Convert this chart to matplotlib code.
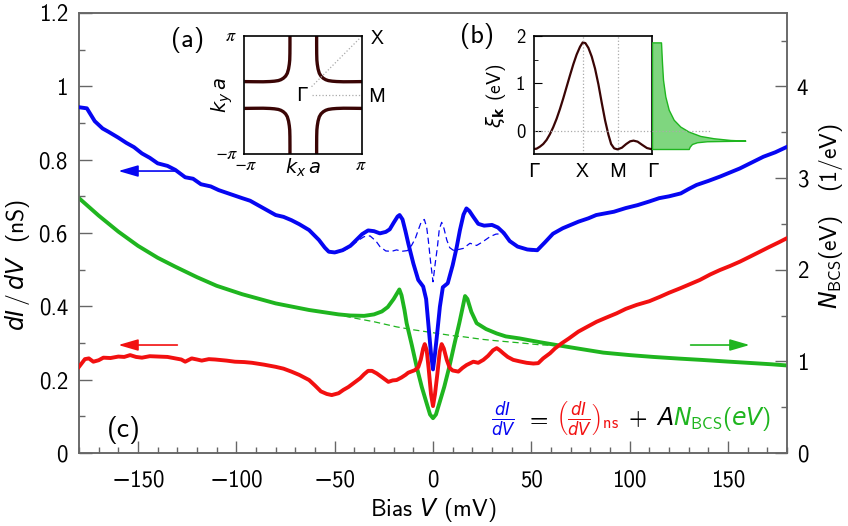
import matplotlib
matplotlib.use('Agg')
import matplotlib.pyplot as plt
from matplotlib.ticker import MultipleLocator, FuncFormatter, FixedLocator

plt.rcParams.update({
    'font.family': ['cmss10', 'DejaVu Sans'],
    'mathtext.fontset': 'custom',
    'mathtext.rm': 'cmss10',
    'mathtext.it': 'DejaVu Sans:italic',
    'mathtext.bf': 'DejaVu Sans:bold',
    'mathtext.sf': 'cmss10',
    'axes.unicode_minus': True,
})

# ---------------- data ----------------
blue_v = [-180, -176, -172, -168, -165, -160, -156, -152, -148, -144, -140, -135, -131, -126, -122, -118,
          -113, -109, -103, -97, -93, -89, -85, -80, -76, -72, -68, -63, -58, -55, -53, -50, -46, -42,
          -39, -36, -33, -30, -27, -24, -22, -20, -18, -17, -15.5, -14, -12.5, -10, -7.5, -5, -3.5, -2,
          -1, 0, 1, 2, 3.5, 5, 7.5, 10, 12, 13.7, 15.5, 17, 18.5, 20.5, 23, 26, 30, 33, 36, 39, 43, 48,
          53, 57, 61, 66, 70, 74, 79, 83, 88, 92, 98, 104, 110, 115, 120, 126, 130, 134, 140, 146, 151,
          156, 162, 168, 174, 180]
blue_g = [0.943, 0.940, 0.905, 0.885, 0.876, 0.860, 0.846, 0.834, 0.817, 0.805, 0.790, 0.783, 0.772,
          0.752, 0.748, 0.733, 0.727, 0.717, 0.706, 0.695, 0.688, 0.676, 0.664, 0.649, 0.644, 0.635,
          0.624, 0.608, 0.581, 0.560, 0.549, 0.547, 0.553, 0.565, 0.581, 0.597, 0.607, 0.605, 0.599,
          0.603, 0.610, 0.628, 0.645, 0.649, 0.637, 0.605, 0.570, 0.517, 0.472, 0.454, 0.420, 0.330,
          0.270, 0.228, 0.270, 0.320, 0.399, 0.452, 0.463, 0.512, 0.560, 0.608, 0.650, 0.667, 0.660,
          0.644, 0.625, 0.620, 0.622, 0.615, 0.600, 0.578, 0.563, 0.555, 0.553, 0.575, 0.598, 0.613,
          0.622, 0.631, 0.640, 0.649, 0.654, 0.658, 0.668, 0.676, 0.686, 0.695, 0.700, 0.708, 0.720,
          0.731, 0.742, 0.754, 0.765, 0.776, 0.792, 0.808, 0.820, 0.835]

blue_dash_v = [-58, -53, -50, -46, -42, -38, -35, -32, -29, -27, -24, -21, -18.5, -16, -13, -10.8, -9,
               -7.5, -6, -4.4, -3.2, -2.4, -1.2, 0, 1.2, 2.2, 3.2, 4.4, 5.6, 7, 8.5, 10.3, 13, 15.4,
               18.8, 22.2, 25, 29, 32, 35.7, 40, 44, 47.6, 53, 57]
blue_dash_g = [0.578, 0.547, 0.545, 0.550, 0.562, 0.580, 0.590, 0.592, 0.578, 0.563, 0.551, 0.550,
               0.554, 0.550, 0.552, 0.567, 0.585, 0.608, 0.630, 0.637, 0.615, 0.581, 0.520, 0.467,
               0.520, 0.560, 0.610, 0.629, 0.612, 0.581, 0.560, 0.553, 0.555, 0.558, 0.572, 0.566,
               0.575, 0.590, 0.597, 0.598, 0.576, 0.561, 0.553, 0.550, 0.572]

red_v = [-180, -177, -175, -172.7, -170, -167.6, -164, -160, -157, -154, -151, -148, -144, -139.6, -135,
         -131, -128, -126, -122.7, -120, -117.6, -114, -110.8, -105, -100.7, -96, -92, -86, -80, -76,
         -72, -68, -63, -60, -57, -54, -51.5, -48, -45.6, -43, -40.5, -37, -35, -33, -31, -28.6, -26,
         -22.7, -20.5, -18.5, -16, -14, -12.6, -9.2, -7.5, -6.2, -5, -4.2, -3.2, -2.2, -1, 0, 1, 2.2,
         3.4, 4.4, 5.5, 7, 8.5, 10, 12.9, 15, 17.1, 20.5, 23, 25.6, 28, 30.5, 32.4, 34, 35.7, 38, 40.8,
         44, 47.6, 51, 53.5, 56, 59.5, 62, 65.4, 69, 73.9, 78, 83.2, 88, 93.4, 98, 103.6, 110, 115.4,
         120, 125.6, 130, 135.7, 141, 145.9, 151, 156.1, 161, 166.2, 171, 176, 180]
red_g = [0.235, 0.256, 0.258, 0.249, 0.253, 0.260, 0.259, 0.263, 0.262, 0.267, 0.262, 0.260, 0.264,
         0.263, 0.262, 0.258, 0.255, 0.249, 0.258, 0.255, 0.252, 0.256, 0.255, 0.252, 0.249, 0.248,
         0.246, 0.241, 0.235, 0.230, 0.222, 0.213, 0.199, 0.184, 0.168, 0.161, 0.158, 0.163, 0.172,
         0.180, 0.190, 0.204, 0.215, 0.224, 0.224, 0.217, 0.207, 0.194, 0.198, 0.199, 0.206, 0.213,
         0.219, 0.226, 0.234, 0.255, 0.285, 0.297, 0.280, 0.230, 0.160, 0.128, 0.160, 0.215, 0.275,
         0.297, 0.285, 0.254, 0.232, 0.225, 0.222, 0.232, 0.240, 0.249, 0.246, 0.254, 0.265, 0.280,
         0.286, 0.280, 0.272, 0.262, 0.254, 0.250, 0.246, 0.244, 0.245, 0.258, 0.272, 0.285, 0.299,
         0.312, 0.331, 0.343, 0.358, 0.369, 0.381, 0.393, 0.404, 0.414, 0.426, 0.437, 0.449, 0.459,
         0.472, 0.487, 0.499, 0.510, 0.522, 0.535, 0.549, 0.562, 0.575, 0.586]

# N_BCS in 1/eV (right axis)
green_v = [-180, -170, -160, -150, -140, -131, -120, -110, -97, -80, -63, -48, -42, -35, -30, -26, -23,
           -20, -17.1, -16, -14.5, -13.4, -10.8, -8.3, -5.7, -3.2, -1.5, 0, 1.5, 3.2, 5.7, 8.3, 10.8,
           13.4, 15, 16.3, 17.5, 19.5, 22.2, 27, 32.4, 37, 44, 54, 65, 75, 86.6, 100, 112, 125, 137,
           150, 163, 172, 180]
green_n = [2.780, 2.590, 2.415, 2.260, 2.130, 2.032, 1.918, 1.824, 1.732, 1.632, 1.560, 1.512, 1.500,
           1.496, 1.512, 1.544, 1.592, 1.680, 1.784, 1.720, 1.560, 1.416, 1.180, 0.940, 0.720, 0.540,
           0.420, 0.380, 0.420, 0.540, 0.720, 0.940, 1.180, 1.420, 1.580, 1.712, 1.680, 1.540, 1.416,
           1.352, 1.304, 1.272, 1.250, 1.210, 1.170, 1.135, 1.095, 1.068, 1.048, 1.030, 1.015, 0.997,
           0.980, 0.968, 0.955]

green_dash_v = [-60, -50, -40, -30, -18.5, -10, 0, 10, 15.4, 25, 32.4, 45, 54.4, 64]
green_dash_n = [1.548, 1.516, 1.472, 1.432, 1.376, 1.344, 1.312, 1.280, 1.268, 1.240, 1.224, 1.200,
                1.180, 1.172]

# inset (a): one Fermi-surface arc (units of pi/a), mirrored into the four quadrants
fs_kx = [0.226, 0.226, 0.227, 0.230, 0.237, 0.250, 0.271, 0.300, 0.339, 0.380, 0.424, 0.49, 0.565,
         0.68, 0.84, 1.0]
fs_ky = [1.0, 0.85, 0.70, 0.59, 0.52, 0.44, 0.367, 0.318, 0.282, 0.258, 0.243, 0.233, 0.227, 0.223,
         0.224, 0.226]

# inset (b): band along Gamma-X-M-Gamma (path coordinate in pi/a) and DOS
path_ticks = [0, 1.414, 2.414, 3.414]
path_labels = ['Γ', 'X', 'M', 'Γ']
band_p = [0, 0.087, 0.183, 0.279, 0.375, 0.471, 0.567, 0.664, 0.760, 0.856, 0.952, 1.048, 1.144, 1.240,
          1.337, 1.414, 1.491, 1.577, 1.673, 1.769, 1.866, 1.962, 2.058, 2.154, 2.231, 2.318, 2.414,
          2.539, 2.664, 2.779, 2.875, 2.991, 3.116, 3.260, 3.414]
band_e = [-0.373, -0.366, -0.324, -0.268, -0.183, -0.063, 0.085, 0.261, 0.465, 0.690, 0.930, 1.169,
          1.401, 1.606, 1.768, 1.859, 1.845, 1.746, 1.563, 1.310, 0.979, 0.592, 0.225, -0.077, -0.268,
          -0.359, -0.380, -0.345, -0.268, -0.211, -0.197, -0.218, -0.282, -0.352, -0.380]
dos_e = [1.86, 1.86, 1.43, 1.08, 0.73, 0.45, 0.24, 0.097, -0.008, -0.099, -0.147, -0.183, -0.197,
         -0.204, -0.21, -0.231, -0.267, -0.323, -0.372, -0.372]
dos_w = [0, 9, 10, 11, 13.3, 16.7, 21.7, 28.3, 36.7, 48.3, 61.7, 78.3, 93.3, 71.7, 55, 45, 40, 37.7,
         36.7, 0]

BLUE = '#0606f2'
RED = '#f21010'
GREEN = '#1fb51f'
BROWN = '#3a0505'
W, H = 848, 526

fig = plt.figure(figsize=(W / 100, H / 100), dpi=100)


def fx(x):
    return x / W


def fy(y):
    return 1 - y / H


def ft(x, y, s, **kw):
    kw.setdefault('ha', 'center')
    kw.setdefault('va', 'center')
    return fig.text(fx(x), fy(y), s, **kw)


ax = fig.add_axes([fx(79), fy(453), (787 - 79) / W, (453 - 13) / H])
ax2 = ax.twinx()
ax.set_xlim(-180, 180)
ax.set_ylim(0, 1.2)
ax2.set_ylim(0, 4.8)

ax2.plot(green_dash_v, green_dash_n, color=GREEN, lw=0.9, ls=(0, (5, 3)), zorder=2)
ax2.plot(green_v, green_n, color=GREEN, lw=2.8, zorder=3, solid_joinstyle='round')
ax.plot(blue_dash_v, blue_dash_g, color=BLUE, lw=0.9, ls=(0, (5, 3)), zorder=2)
ax.plot(red_v, red_g, color=RED, lw=2.8, zorder=4, solid_joinstyle='round')
ax.plot(blue_v, blue_g, color=BLUE, lw=2.8, zorder=5, solid_joinstyle='round')
ax.set_zorder(2)
ax2.set_zorder(1)
ax.patch.set_visible(False)

# arrows
ap = dict(arrowstyle='-|>,head_length=1.2,head_width=0.35', lw=1.2, shrinkA=0, shrinkB=0)
ax.annotate('', xy=(-160, 0.769), xytext=(-131, 0.769), arrowprops=dict(color=BLUE, **ap))
ax.annotate('', xy=(-160, 0.2945), xytext=(-130, 0.2945), arrowprops=dict(color=RED, **ap))
ax.annotate('', xy=(161, 0.2945), xytext=(131, 0.2945), arrowprops=dict(color=GREEN, **ap))

SP = '#666666'
for a in (ax, ax2):
    for s in a.spines.values():
        s.set_color(SP)
        s.set_linewidth(1.1)

ax.xaxis.set_major_locator(MultipleLocator(50))
ax.xaxis.set_minor_locator(MultipleLocator(10))
ax.yaxis.set_major_locator(MultipleLocator(0.2))
ax.yaxis.set_minor_locator(MultipleLocator(0.1))
ax2.yaxis.set_major_locator(MultipleLocator(1))
ax2.yaxis.set_minor_locator(MultipleLocator(0.5))
fmt = FuncFormatter(lambda v, p: ('%g' % round(v, 3)).replace('-', '\u2212'))
ax.xaxis.set_major_formatter(fmt)
ax.yaxis.set_major_formatter(fmt)
ax2.yaxis.set_major_formatter(fmt)
ax.tick_params(which='both', direction='in', top=False, right=False, color=SP, labelsize=16.5)
ax.tick_params(which='major', length=9, width=1.0)
ax.tick_params(which='minor', length=4.5, width=1.0)
ax.tick_params(axis='y', pad=8)
ax.tick_params(axis='x', pad=12)
ax2.tick_params(which='both', direction='in', color=SP, labelsize=16.5, pad=7)
ax2.tick_params(which='major', length=9, width=1.0)
ax2.tick_params(which='minor', length=4.5, width=1.0)

ft(18, 265, r'$dI\,/\,dV$  (nS)', rotation=90, fontsize=17)
ft(831, 216, r'$N_{\mathrm{BCS}}$(eV)   (1/eV)', rotation=90, fontsize=17)
ft(433, 510, r'Bias $V$ (mV)', fontsize=17)
ft(124, 430, '(c)', fontsize=20)

# formula: pieces chained left to right on one baseline
yb = 425
pieces = [(r'$\frac{dI}{dV}$', BLUE, 0), (r'$=$', 'black', 9), (r'$\left(\frac{dI}{dV}\right)_{\mathrm{ns}}$', RED, 8),
          (r'$+$', 'black', 8), (r'$A$', 'black', 9), (r'$N_{\mathrm{BCS}}(eV)$', GREEN, 0)]
fig.canvas.draw()
rend = fig.canvas.get_renderer()
xcur = 491
for s, c, gap in pieces:
    xcur += gap
    t = ft(xcur, yb, s, color=c, fontsize=17, ha='left', va='baseline')
    bb = t.get_window_extent(rend)
    xcur = bb.x1

# ---------------- inset (a) ----------------
axa = fig.add_axes([fx(244.3), fy(154.3), 118 / W, 118.6 / H])
axa.set_xlim(-1, 1)
axa.set_ylim(-1, 1)
axa.set_xticks([])
axa.set_yticks([])
for sx in (1, -1):
    for sy in (1, -1):
        axa.plot([sx * v for v in fs_kx], [sy * v for v in fs_ky], color=BROWN, lw=2.4,
                 solid_capstyle='butt', solid_joinstyle='round')
axa.plot([0.14, 1], [0, 0], ls=':', color='#aaaaaa', lw=0.9)
axa.plot([0.14, 1], [0.14, 1], ls=':', color='#aaaaaa', lw=0.9)
for s in axa.spines.values():
    s.set_linewidth(1.2)
ft(188, 40, '(a)', fontsize=19)
pi_kw = dict(fontfamily='STIXGeneral', style='italic', fontsize=13)
ft(230, 37, 'π', **pi_kw)
ft(226, 155, '\u2212π', **pi_kw)
ft(245, 166, '\u2212π', **pi_kw)
ft(360, 166, 'π', **pi_kw)
ft(303, 168, r'$k_x\,a$', fontsize=14)
ft(222, 95, r'$k_y\,a$', fontsize=14, rotation=90)
ft(377, 39, 'X', fontsize=14)
ft(377, 97.5, 'M', fontsize=14)
ft(302, 96.5, 'Γ', fontsize=14)

# ---------------- inset (b) ----------------
EMIN, EMAX = -0.483, 2.0
axb = fig.add_axes([fx(533.5), fy(154.3), 118.8 / W, 118.6 / H])
axb.plot(band_p, band_e, color=BROWN, lw=1.6)
axb.set_xlim(0, path_ticks[-1])
axb.set_ylim(EMIN, EMAX)
axb.axhline(0, ls=':', color='#aaaaaa', lw=0.9)
for p in path_ticks[1:3]:
    axb.axvline(p, ls=':', color='#aaaaaa', lw=0.9)
axb.set_xticks(path_ticks)
axb.set_xticklabels(path_labels)
axb.yaxis.set_major_locator(FixedLocator([0, 1, 2]))
axb.yaxis.set_minor_locator(FixedLocator([-0.5, 0.5, 1.5]))
axb.tick_params(axis='y', which='both', direction='in', labelsize=13.5, pad=6)
axb.tick_params(axis='y', which='major', length=6)
axb.tick_params(axis='y', which='minor', length=3)
axb.tick_params(axis='x', length=0, labelsize=14, pad=6)
for s in axb.spines.values():
    s.set_linewidth(1.2)
ft(477, 36, '(b)', fontsize=19)
ft(496, 96, r'$\xi_{\mathbf{k}}$ (eV)', fontsize=14, rotation=90)

# DOS next to inset (b)
axd = fig.add_axes([fx(652), fy(154.3), 108 / W, 118.6 / H])
axd.set_xlim(0, 108)
axd.set_ylim(EMIN, EMAX)
axd.axis('off')
axd.fill_betweenx(dos_e, 0, dos_w, facecolor='#7fd67f', edgecolor=GREEN, lw=1.0)
axd.plot([0, 59], [0, 0], ls=':', color='#aaaaaa', lw=0.9, zorder=5)

fig.savefig('out.png', dpi=100)
